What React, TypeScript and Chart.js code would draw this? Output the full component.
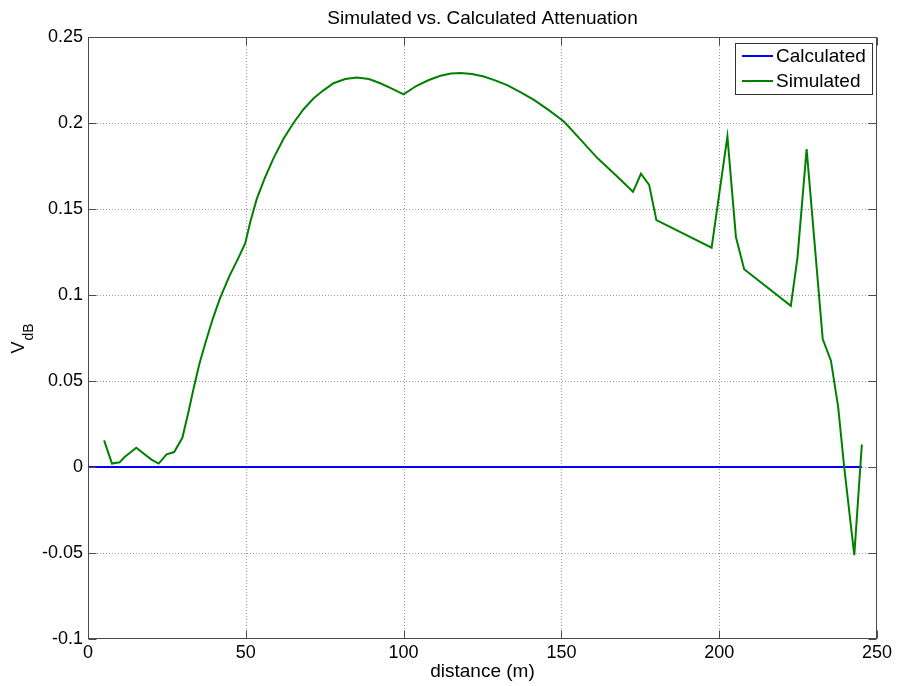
import React, { useEffect, useRef } from "react";
import { Chart, registerables } from "chart.js";

Chart.register(...registerables);

const TITLE = "Simulated vs. Calculated Attenuation";
const X_LABEL = "distance (m)";
const Y_LABEL_MAIN = "V";
const Y_LABEL_SUB = "dB";

const X_TICKS = [0, 50, 100, 150, 200, 250];
const X_TICK_LABELS = ["0", "50", "100", "150", "200", "250"];
const Y_TICKS = [-0.1, -0.05, 0, 0.05, 0.1, 0.15, 0.2, 0.25];
const Y_TICK_LABELS = ["-0.1", "-0.05", "0", "0.05", "0.1", "0.15", "0.2", "0.25"];

const CALC_X = [0, 245.2];
const CALC_Y = [0, 0];

const SIM_X = [
  5.1, 7.6, 10.0, 11.6, 15.3, 20.1, 22.4, 24.9, 27.3, 29.9, 31.7, 33.5, 35.3, 37.1,
  39.5, 41.9, 44.8, 47.7, 49.8, 51.5, 53.5, 56.0, 58.8, 62.0, 65.1, 68.3, 71.5, 74.6,
  77.8, 81.5, 85.2, 89.0, 92.6, 96.3, 100.0, 104.0, 108.0, 111.7, 115.0, 118.0, 121.7,
  125.4, 129.0, 132.8, 137.0, 141.3, 146.0, 150.8, 156.0, 161.4, 167.0, 172.7, 175.2,
  177.8, 180.1, 197.6, 202.6, 205.3, 207.9, 222.7, 224.8, 227.7, 232.8, 235.4, 237.7,
  239.6, 242.8, 245.2,
];
const SIM_Y = [
  0.0155, 0.002, 0.0027, 0.0058, 0.0112, 0.0043, 0.002, 0.0074, 0.0087, 0.017, 0.031,
  0.046, 0.06, 0.0715, 0.086, 0.0985, 0.111, 0.1217, 0.13, 0.143, 0.156, 0.168, 0.1796,
  0.191, 0.2, 0.208, 0.2144, 0.219, 0.2231, 0.2256, 0.2264, 0.2256, 0.2231, 0.22,
  0.2167, 0.2215, 0.225, 0.2275, 0.2288, 0.229, 0.2285, 0.227, 0.2248, 0.222, 0.218,
  0.2134, 0.2075, 0.2009, 0.1905, 0.1796, 0.17, 0.16, 0.1705, 0.164, 0.1435, 0.1275,
  0.1922, 0.1337, 0.115, 0.0937, 0.1217, 0.1848, 0.0744, 0.0618, 0.0348, 0.0, -0.0512,
  0.0131,
];

const FONT = '"Liberation Sans", Arial, Helvetica, sans-serif';
const BLUE = "#0000ff";
const GREEN = "#008000";

const gridPlugin = {
  id: "matlabGrid",
  beforeDatasetsDraw(chart: any) {
    const { ctx, chartArea: a, scales } = chart;
    ctx.save();
    ctx.strokeStyle = "#9a9a9a";
    ctx.lineWidth = 1;
    ctx.setLineDash([1, 2]);
    X_TICKS.forEach((v) => {
      const px = Math.round(scales.x.getPixelForValue(v)) + 0.5;
      if (px <= a.left + 1 || px >= a.right - 1) return;
      ctx.beginPath();
      ctx.moveTo(px, a.top);
      ctx.lineTo(px, a.bottom);
      ctx.stroke();
    });
    Y_TICKS.forEach((v) => {
      const py = Math.round(scales.y.getPixelForValue(v)) + 0.5;
      if (py <= a.top + 1 || py >= a.bottom - 1) return;
      ctx.beginPath();
      ctx.moveTo(a.left, py);
      ctx.lineTo(a.right, py);
      ctx.stroke();
    });
    ctx.restore();
  },
};

const decorPlugin = {
  id: "matlabDecor",
  afterDatasetsDraw(chart: any) {
    const { ctx, chartArea: a, scales } = chart;
    ctx.save();
    // box
    ctx.strokeStyle = "#4a4a4a";
    ctx.lineWidth = 1;
    ctx.setLineDash([]);
    const L = Math.round(a.left) + 0.5;
    const R = Math.round(a.right) - 0.5;
    const T = Math.round(a.top) + 0.5;
    const B = Math.round(a.bottom) - 0.5;
    ctx.strokeRect(L, T, R - L, B - T);
    // inward ticks
    const tl = 8;
    X_TICKS.forEach((v) => {
      const px = Math.round(scales.x.getPixelForValue(v)) + 0.5;
      ctx.beginPath();
      ctx.moveTo(px, T);
      ctx.lineTo(px, T + tl);
      ctx.moveTo(px, B);
      ctx.lineTo(px, B - tl);
      ctx.stroke();
    });
    Y_TICKS.forEach((v) => {
      const py = Math.round(scales.y.getPixelForValue(v)) + 0.5;
      ctx.beginPath();
      ctx.moveTo(L, py);
      ctx.lineTo(L + tl, py);
      ctx.moveTo(R, py);
      ctx.lineTo(R - tl, py);
      ctx.stroke();
    });

    // title
    ctx.fillStyle = "#000";
    ctx.font = `19px ${FONT}`;
    ctx.textAlign = "center";
    ctx.textBaseline = "alphabetic";
    ctx.fillText(TITLE, (a.left + a.right) / 2, 24);

    // x label
    ctx.fillText(X_LABEL, (a.left + a.right) / 2, 677);

    // y label (rotated, with subscript)
    ctx.save();
    ctx.translate(24, 339);
    ctx.rotate(-Math.PI / 2);
    ctx.font = `18px ${FONT}`;
    const wV = ctx.measureText(Y_LABEL_MAIN).width;
    ctx.font = `14px ${FONT}`;
    const wS = ctx.measureText(Y_LABEL_SUB).width;
    const start = -(wV + wS) / 2;
    ctx.textAlign = "left";
    ctx.font = `18px ${FONT}`;
    ctx.fillText(Y_LABEL_MAIN, start, 0);
    ctx.font = `14px ${FONT}`;
    ctx.fillText(Y_LABEL_SUB, start + wV + 1, 9);
    ctx.restore();

    // legend
    const lx = 735.5, ly = 43.5, lw = 137, lh = 51;
    ctx.fillStyle = "#fff";
    ctx.fillRect(lx, ly, lw, lh);
    ctx.strokeStyle = "#333";
    ctx.strokeRect(lx, ly, lw, lh);
    const items = [
      { label: "Calculated", color: BLUE, y: 56 },
      { label: "Simulated", color: GREEN, y: 81 },
    ];
    items.forEach((it) => {
      ctx.strokeStyle = it.color;
      ctx.lineWidth = 2;
      ctx.beginPath();
      ctx.moveTo(742, it.y);
      ctx.lineTo(773, it.y);
      ctx.stroke();
      ctx.fillStyle = "#000";
      ctx.font = `19px ${FONT}`;
      ctx.textAlign = "left";
      ctx.textBaseline = "middle";
      ctx.fillText(it.label, 776, it.y + 1);
    });
    ctx.restore();
  },
};

export default function App() {
  const ref = useRef<HTMLCanvasElement>(null);
  useEffect(() => {
    document.body.style.margin = "0";
    const canvas = ref.current!;
    const chart = new Chart(canvas, {
      type: "line",
      data: {
        datasets: [
          {
            label: "Calculated",
            data: CALC_X.map((x, i) => ({ x, y: CALC_Y[i] })),
            borderColor: BLUE,
            backgroundColor: BLUE,
            borderWidth: 2,
            pointRadius: 0,
            tension: 0,
            order: 1,
          },
          {
            label: "Simulated",
            data: SIM_X.map((x, i) => ({ x, y: SIM_Y[i] })),
            borderColor: GREEN,
            backgroundColor: GREEN,
            borderWidth: 2,
            pointRadius: 0,
            tension: 0,
            order: 0,
          },
        ],
      },
      options: {
        animation: false,
        responsive: false,
        maintainAspectRatio: false,
        layout: { padding: { top: 37, right: 21, left: 0, bottom: 0 } },
        plugins: {
          legend: { display: false },
          title: { display: false },
          tooltip: { enabled: false },
        },
        scales: {
          x: {
            type: "linear",
            min: 0,
            max: 250,
            afterBuildTicks: (s: any) => {
              s.ticks = X_TICKS.map((v) => ({ value: v }));
            },
            afterFit: (s: any) => {
              s.height = 47;
            },
            ticks: {
              autoSkip: false,
              maxRotation: 0,
              padding: 3,
              color: "#000",
              font: { family: FONT, size: 18 },
              callback: (v: any) => {
                const i = X_TICKS.indexOf(Number(v));
                return i >= 0 ? X_TICK_LABELS[i] : "";
              },
            },
            grid: { display: false, drawTicks: false },
            border: { display: false },
          },
          y: {
            type: "linear",
            min: -0.1,
            max: 0.25,
            afterBuildTicks: (s: any) => {
              s.ticks = Y_TICKS.map((v) => ({ value: v }));
            },
            afterFit: (s: any) => {
              s.width = 88;
            },
            ticks: {
              autoSkip: false,
              padding: 5,
              color: "#000",
              font: { family: FONT, size: 18 },
              callback: (v: any) => {
                const i = Y_TICKS.findIndex((t) => Math.abs(t - Number(v)) < 1e-9);
                return i >= 0 ? Y_TICK_LABELS[i] : "";
              },
            },
            grid: { display: false, drawTicks: false },
            border: { display: false },
          },
        },
      },
      plugins: [gridPlugin, decorPlugin],
    });
    return () => chart.destroy();
  }, []);
  return (
    <div style={{ width: 898, height: 686, background: "#fff" }}>
      <canvas ref={ref} width={898} height={686} />
    </div>
  );
}
